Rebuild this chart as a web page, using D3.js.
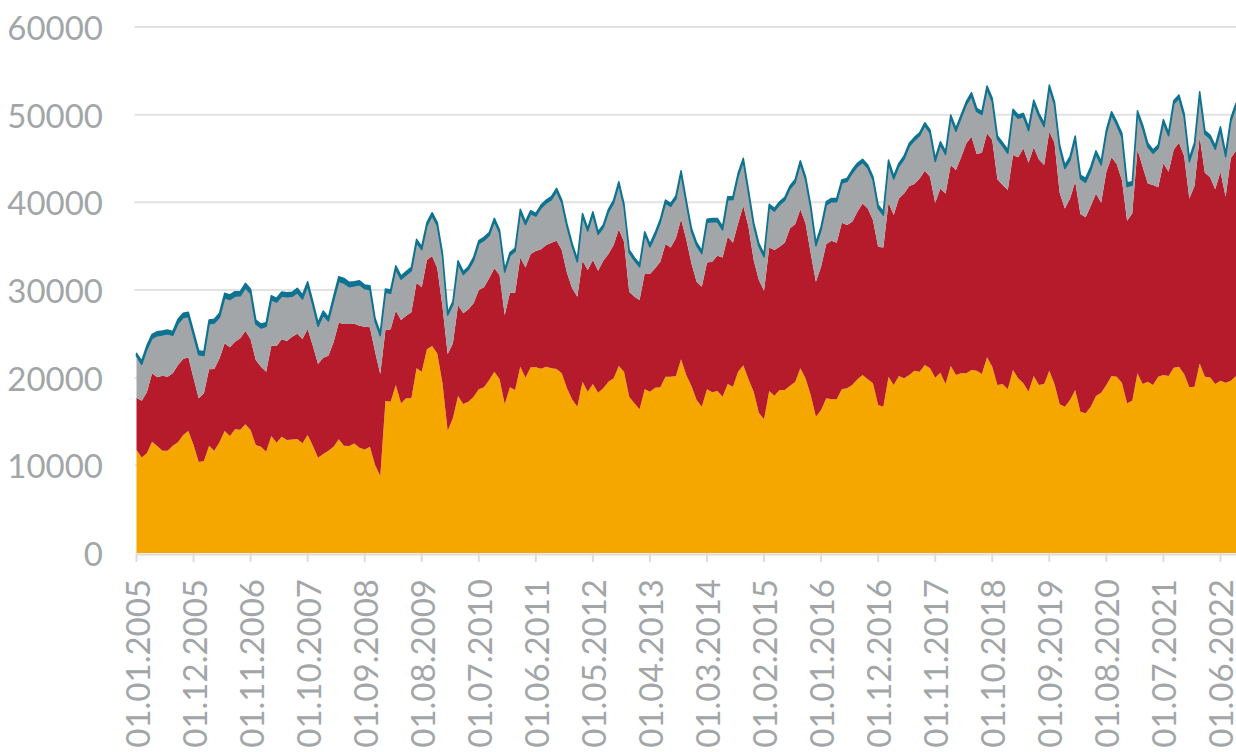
<!DOCTYPE html>
<html><head><meta charset="utf-8">
<script src="https://cdn.jsdelivr.net/npm/d3@7"></script>
<style>
body{margin:0;background:#fff;}
svg{display:block;}
text{font-family:Lato,"Open Sans","Liberation Sans",sans-serif;}
</style>
</head><body>
<svg id="chart" width="1236" height="752"></svg>
<script>
// Monthly data, starting 01.01.2005
const tickLabels = ["01.01.2005","01.12.2005","01.11.2006","01.10.2007","01.09.2008","01.08.2009","01.07.2010","01.06.2011","01.05.2012","01.04.2013","01.03.2014","01.02.2015","01.01.2016","01.12.2016","01.11.2017","01.10.2018","01.09.2019","01.08.2020","01.07.2021","01.06.2022"];
const tickStep = 11;
const yTicks = [0,10000,20000,30000,40000,50000,60000];

const orange = [11750,10900,11370,12700,12200,11670,11670,12240,12620,13460,
13920,12320,10380,10490,12240,11670,12620,13920,13350,14110,
14050,14680,14030,12320,12130,11560,13350,12580,13270,12890,
12960,12990,12510,13460,12240,10870,11290,11670,12130,12970,
12240,12200,12500,12010,11820,12130,10040,8780,17340,17260,
19160,17070,17640,17640,21060,20680,23230,23610,22770,19350,
13950,15360,17910,17000,17260,17830,18670,18900,19730,20680,
19850,16960,18900,18590,21250,20000,21180,21180,21030,21250,
21060,20990,20490,18780,17500,16690,19540,18400,19280,18290,
18780,19540,19920,21330,20680,17830,17070,16390,18670,18400,
18860,18900,20110,20110,20190,22090,20300,19050,17450,16690,
18670,18330,18480,17830,19280,18970,20680,21410,19810,18400,
16010,15250,18480,17950,18590,18590,19090,19500,21060,19920,
18020,15550,16310,17640,17530,17530,18670,18780,19160,19810,
20300,19810,19350,16880,16690,20110,19160,20190,19920,20300,
20800,20680,21440,21060,20000,20570,19270,21330,20300,20490,
20490,20870,20800,20420,22320,21250,19160,19270,18670,20870,
19920,19350,18400,20190,19160,19280,20800,19280,16960,16690,
17450,18590,16120,15930,16690,17910,18290,19160,20190,20110,
19430,17070,17380,20490,19280,19540,19160,20110,20300,20190,
21140,21250,20420,18900,18970,21630,20110,20040,19280,19660,
19430,19660,20190];

const red = [5970,6480,6960,7800,7840,8560,8440,8260,8820,8670,
8400,7600,7260,7720,8710,9320,9580,10000,10110,10000,
10440,10640,10340,9690,9120,9120,10300,11030,11100,11290,
11710,12020,11900,12090,11410,10690,10990,10840,11900,13300,
13880,13920,13650,13920,14000,13610,12930,11640,8100,8250,
8480,9510,9430,9810,9770,9620,10190,10270,9700,8750,
8750,8550,10380,10340,10530,10650,11330,11400,11600,11790,
11860,10190,10790,11100,12470,12580,12920,13270,13610,13880,
14340,14630,14070,13200,12700,12550,13800,13880,14140,13910,
14560,14560,15210,15590,14830,11980,12170,12470,13230,13420,
13610,14330,15140,14750,15700,15970,15480,13990,13500,13690,
14480,14900,15430,15890,16800,16430,16920,18210,17410,15020,
15130,14670,16380,16610,16350,16810,17940,18000,18140,17680,
16160,15400,16350,17610,18100,17870,19010,18630,18630,19120,
19580,19500,18630,18060,18170,19850,19390,20260,21100,21560,
21290,22050,22170,21860,19960,21020,21750,22920,23380,24640,
26240,26620,24710,25240,25550,25860,23460,22700,22730,24530,
25210,26810,26120,26080,25740,24970,27260,27520,24140,22620,
23000,23760,22550,22360,22890,23110,21670,24330,24940,24260,
23110,20840,21360,25550,24780,22620,22810,21600,24150,23300,
24900,25550,24860,21550,22890,25860,23270,22810,22200,23830,
21210,25360,25700];

const gray = [4760,4140,4900,3990,4750,4650,4900,4340,4750,4720,
4650,4910,4980,4310,5210,5240,4690,5200,5450,5200,
4840,4930,5240,4130,4420,5170,5240,5000,4950,5050,
4610,4700,4570,4970,4620,4290,4880,3940,4730,4730,
4670,4250,4320,4680,4320,4330,3440,4370,4290,4130,
4760,4660,4660,4750,4590,4300,3930,4600,4860,5780,
4430,4460,4720,4430,4540,4900,5280,5360,4880,5380,
4830,4890,4250,4730,5160,4870,4620,3970,4720,4790,
4910,5660,5400,5260,4820,3960,5080,4440,5180,4150,
3780,4790,4810,5130,4020,4460,4150,3790,4450,3100,
3730,4510,4680,4680,4510,5250,4170,3670,4120,3760,
4560,4580,3880,3130,4220,4920,5380,5090,3860,3960,
3850,3840,4590,4440,4800,4850,4520,4770,5210,5000,
5180,4100,4220,4460,4440,4680,4510,4980,5560,5170,
4680,4620,4600,4370,3680,4510,4110,3670,3920,4540,
4980,4890,5160,5000,4700,4990,4440,5380,4420,4510,
4420,4640,4860,4360,5070,4410,4590,4470,4200,4830,
4470,3620,3640,5040,4900,4390,4980,4350,5060,4540,
4370,4840,4020,4000,4070,4490,4310,4400,4860,4470,
4910,3880,3230,4050,4390,4180,3620,4470,4640,4100,
5210,5080,4470,4190,4600,4760,4410,4440,4570,4740,
4570,4190,5040];

const teal = [300,380,420,450,460,440,430,410,470,490,
480,420,460,440,420,430,450,500,520,500,
480,510,470,440,450,420,460,440,450,470,
460,480,450,430,400,420,440,430,480,520,
540,510,480,450,430,420,360,340,380,360,
370,350,360,380,360,340,330,340,350,300,
280,300,330,320,330,340,350,340,330,320,
300,310,320,330,320,340,330,320,330,340,
330,310,300,290,280,300,320,310,330,300,
290,310,320,300,280,290,300,310,300,330,
340,320,330,340,320,300,310,320,330,340,
350,360,380,370,340,320,330,310,320,300,
330,340,320,310,330,320,310,330,340,320,
330,350,340,360,380,370,350,340,330,350,
340,330,340,380,390,360,340,330,340,330,
340,320,310,330,350,340,320,330,340,320,
330,380,350,320,330,340,350,360,370,380,
360,370,390,360,350,370,340,330,380,400,
390,370,420,440,410,380,370,360,350,360,
420,450,380,360,370,390,380,360,370,350,
340,360,400,380,340,370,380,390,370,400,
380,370,360];

const seriesKeys = ["orange","red","gray","teal"];
const colors = {orange:"#f5a700", red:"#b51b2b", gray:"#a3a6a9", teal:"#0e7391"};

const rows = orange.map((v,i)=>({i, orange:v, red:red[i], gray:gray[i], teal:teal[i]}));

const svg = d3.select("#chart");
const plotLeft = 136.5, plotRight = 1236, plotTop = 27, plotBottom = 553;
const x = d3.scaleLinear().domain([0, rows.length-1]).range([plotLeft, plotRight]);
const y = d3.scaleLinear().domain([0, 60000]).range([plotBottom, plotTop]);

// gridlines
svg.append("g").selectAll("line").data(yTicks.filter(d=>d>0)).join("line")
  .attr("x1", plotLeft-2).attr("x2", plotRight)
  .attr("y1", d=>y(d)).attr("y2", d=>y(d))
  .attr("stroke","#e2e2e2").attr("stroke-width",2);

// x axis baseline & ticks
const tickIdx = tickLabels.map((_,k)=>k*tickStep);
svg.append("line").attr("x1", plotLeft).attr("x2", plotRight).attr("y1", plotBottom+1.5).attr("y2", plotBottom+1.5)
  .attr("stroke","#dcdcdc").attr("stroke-width",2);
svg.append("g").selectAll("line").data(tickIdx).join("line")
  .attr("x1", d=>x(d)).attr("x2", d=>x(d)).attr("y1", plotBottom).attr("y2", plotBottom+9)
  .attr("stroke","#dcdcdc").attr("stroke-width",2);

// stacked areas
const stack = d3.stack().keys(seriesKeys);
const layers = stack(rows);
const area = d3.area().x(d=>x(d.data.i)).y0(d=>y(d[0])).y1(d=>y(d[1]));
svg.append("g").selectAll("path").data(layers).join("path")
  .attr("d", area)
  .attr("fill", d=>colors[d.key])
  .attr("stroke", d=>d.key==="teal"?colors.teal:"none")
  .attr("stroke-width", d=>d.key==="teal"?1.5:0)
  .attr("stroke-linejoin","round");

// y labels
svg.append("g").selectAll("text").data(yTicks).join("text")
  .attr("x", 103).attr("y", d=>y(d))
  .attr("text-anchor","end").attr("dominant-baseline","central")
  .attr("fill","#a2a6a8").attr("font-size",33)
  .text(d=>d);

// x labels (rotated)
svg.append("g").selectAll("text").data(tickIdx).join("text")
  .attr("transform", (d)=>`translate(${x(d)},579) rotate(-90)`)
  .attr("text-anchor","end").attr("dominant-baseline","central")
  .attr("fill","#a2a6a8").attr("font-size",33)
  .text((d,k)=>tickLabels[k]);
</script>
</body></html>
